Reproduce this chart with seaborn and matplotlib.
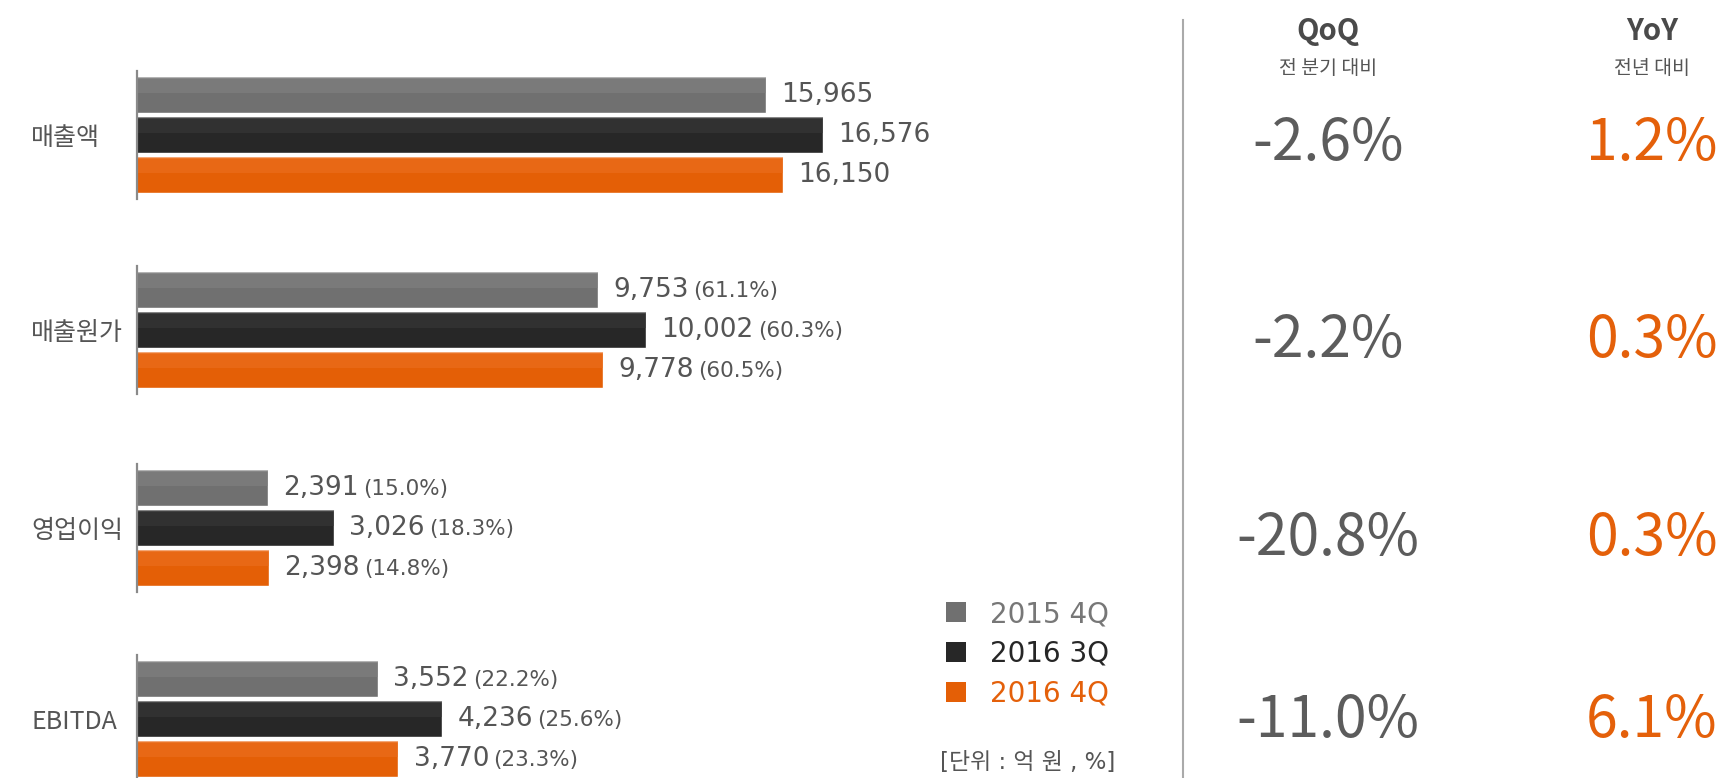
import pandas as pd
import seaborn as sns
import matplotlib.pyplot as plt
from matplotlib.patches import Patch, Rectangle
from matplotlib import transforms

# ---- data ----
categories = ["매출액", "매출원가", "영업이익", "EBITDA"]
periods = ["2015 4Q", "2016 3Q", "2016 4Q"]
val_2015_4q = [15965, 9753, 2391, 3552]
val_2016_3q = [16576, 10002, 3026, 4236]
val_2016_4q = [16150, 9778, 2398, 3770]
ratio_2015_4q = ["", "(61.1%)", "(15.0%)", "(22.2%)"]
ratio_2016_3q = ["", "(60.3%)", "(18.3%)", "(25.6%)"]
ratio_2016_4q = ["", "(60.5%)", "(14.8%)", "(23.3%)"]
qoq = ["-2.6%", "-2.2%", "-20.8%", "-11.0%"]
yoy = ["1.2%", "0.3%", "0.3%", "6.1%"]

# ---- layout / style ----
W, H = 1731, 778
bar_colors = ["#707070", "#272727", "#e45f06"]
top_colors = ["#828282", "#383838", "#ec6f20"]
text_gray = "#555555"
orange = "#e4600a"
group_centers_px = [135, 330, 528, 719]
# the original infographic uses a different (truncated) scale in every block
group_xlim = [(9266, 19917), (7334, 12576), (1130, 10753), (991, 11622)]
value_shift_px = [9, 11, 11, 2]
KR = ["Noto Sans CJK KR", "DejaVu Sans"]
NUM = ["DejaVu Sans", "Noto Sans CJK KR"]

sns.set_theme(style="white")
plt.rcParams["font.family"] = KR

df = pd.DataFrame({
    "category": sum([[c] * 3 for c in categories], []),
    "period": periods * len(categories),
    "value": [v for trio in zip(val_2015_4q, val_2016_3q, val_2016_4q) for v in trio],
})
ratios = [ratio_2015_4q, ratio_2016_3q, ratio_2016_4q]

fig = plt.figure(figsize=(W / 100, H / 100), dpi=100)

group_axes = []
for i, cat in enumerate(categories):
    yc = group_centers_px[i]
    ax = fig.add_axes([137 / W, (H - (yc + 64)) / H, 1000 / W, 128 / H])
    sub = df[df["category"] == cat]
    sns.barplot(data=sub, y="category", x="value", hue="period",
                hue_order=periods, palette=bar_colors, orient="h",
                width=0.9, gap=0.12, legend=False, ax=ax, saturation=1)
    ax.set_xlim(*group_xlim[i])
    ax.set_ylim(0.48, -0.48)

    # lighter upper half on each bar
    for patch, tc in zip(list(ax.patches), top_colors):
        ax.add_patch(Rectangle((patch.get_x(), patch.get_y()), patch.get_width(),
                               patch.get_height() * 0.45, facecolor=tc,
                               edgecolor="none", alpha=0.6))

    for k, cont in enumerate(ax.containers):
        anns = ax.bar_label(cont, labels=[f"{cont.datavalues[0]:,.0f}"],
                            padding=11, fontsize=19, color=text_gray,
                            family=NUM)
        pct = ratios[k][i]
        if pct:
            ax.annotate(pct, xy=(1, 0.5), xycoords=anns[0], xytext=(3, -1),
                        textcoords="offset points", ha="left", va="center",
                        fontsize=15.5, color=text_gray, family=NUM)

    for s in ["top", "right", "bottom"]:
        ax.spines[s].set_visible(False)
    ax.spines["left"].set_color("#8a8a8a")
    ax.spines["left"].set_linewidth(1.6)
    ax.set_xticks([])
    ax.set_xlabel("")
    ax.set_ylabel("")
    ax.tick_params(axis="y", length=0, pad=76, labelsize=18, labelcolor=text_gray)
    for lab in ax.get_yticklabels():
        lab.set_ha("left")
    group_axes.append(ax)

# legend
handles = [Patch(facecolor=c, edgecolor="none") for c in bar_colors]
leg = fig.legend(handles, periods, loc="upper left",
                 bbox_to_anchor=(946 / W, 1 - 600 / H), frameon=False,
                 prop={"family": NUM, "size": 20}, handlelength=0.72,
                 handleheight=0.72, handletextpad=0.85, labelspacing=0.42,
                 borderpad=0, borderaxespad=0)
for t, c in zip(leg.get_texts(), ["#777777", "#262626", orange]):
    t.set_color(c)
fig.text(1115 / W, 1 - 762 / H, "[단위 : 억 원 , %]", ha="right", va="center",
         fontsize=16.5, color=text_gray, family=NUM)

# right panel: divider and growth rates
ax_r = fig.add_axes([1183 / W, 0, (W - 1183) / W, (H - 20) / H])
ax_r.set_xticks([])
ax_r.set_yticks([])
for s in ["top", "right", "bottom"]:
    ax_r.spines[s].set_visible(False)
ax_r.spines["left"].set_color("#aaaaaa")
ax_r.spines["left"].set_linewidth(1.5)
ax_r.patch.set_alpha(0)

qoq_x, yoy_x = 1328 / W, 1652 / W
for x, head, sub_head in [(qoq_x, "QoQ", "전 분기 대비"), (yoy_x, "YoY", "전년 대비")]:
    fig.text(x, 1 - 31 / H, head, ha="center", va="center", fontsize=21,
             fontweight="bold", color="#4a4a4a")
    fig.text(x, 1 - 68 / H, sub_head, ha="center", va="center",
             fontsize=14, color=text_gray)

for i, ax in enumerate(group_axes):
    tr = transforms.blended_transform_factory(fig.transFigure, ax.transData)
    tr = transforms.offset_copy(tr, fig=fig, y=-value_shift_px[i], units="dots")
    fig.text(qoq_x, 0, qoq[i], transform=tr, ha="center", va="center",
             fontsize=41, color="#5c5c5c", fontweight="light")
    fig.text(yoy_x, 0, yoy[i], transform=tr, ha="center", va="center",
             fontsize=41, color=orange, fontweight="light")

fig.savefig("out.png", dpi=100)
